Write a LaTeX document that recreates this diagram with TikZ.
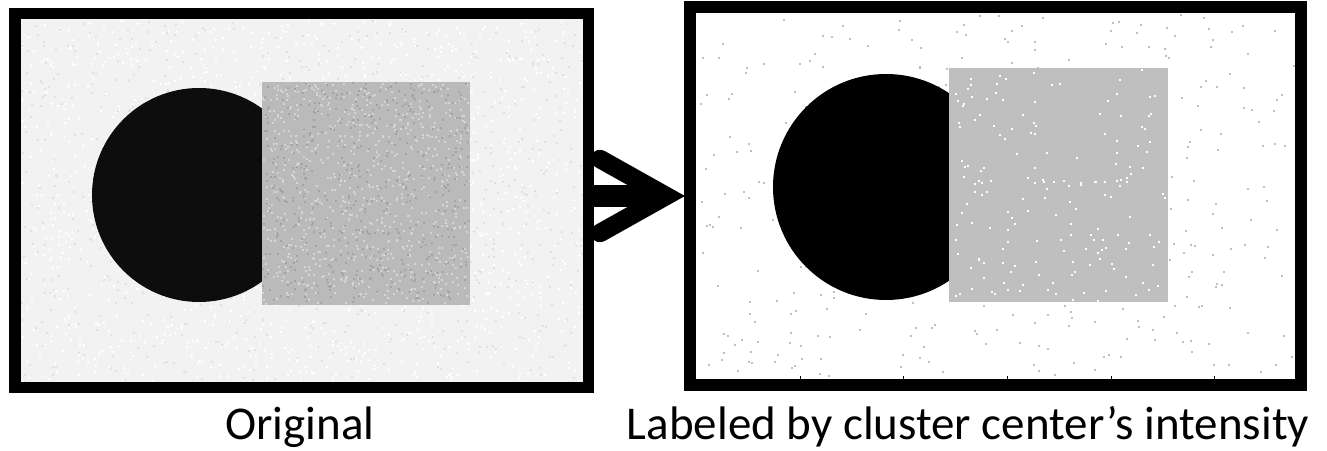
\documentclass[tikz,border=0pt]{standalone}
\usepackage{fontspec}
\setmainfont{Carlito}
\tikzset{
  frame/.style={draw=black, line width=11.5bp},
  lbl/.style={anchor=base, font=\fontsize{47bp}{52bp}\selectfont, inner sep=0pt},
  tick/.style={draw=black, line width=0.8bp},
}
\begin{document}
\begin{tikzpicture}[x=1bp, y=-1bp]
\useasboundingbox[fill=white] (0,0) rectangle (1327,451);
\pgfmathsetseed{12345}
% ---------- left panel (original, noisy) ----------
\fill[black!5] (15,14) rectangle (588,387);
\foreach \i in {1,...,1400} {
  \fill[white] ({20+564*rnd},{19+364*rnd}) rectangle ++(2,2);
}
\foreach \i in {1,...,700} {
  \fill[black!12] ({20+564*rnd},{19+364*rnd}) rectangle ++(2,2);
}
\fill[black!95] (199,195) circle[radius=107];
\fill[black!27] (262,82) rectangle (470,305);
\foreach \i in {1,...,800} {
  \fill[black!17] ({262+206*rnd},{82+221*rnd}) rectangle ++(2,2);
}
\foreach \i in {1,...,500} {
  \fill[black!36] ({262+206*rnd},{82+221*rnd}) rectangle ++(2,2);
}
\draw[frame] (14.75,13.75) rectangle (588.25,387.25);
% ---------- right panel (labeled) ----------
\foreach \i in {1,...,420} {
  \fill[black!25] ({697+597*rnd},{13+364*rnd}) rectangle ++(2,2);
}
\fill[black] (886,187) circle[radius=113];
\fill[black!25] (949,68) rectangle (1168,302);
\foreach \i in {1,...,170} {
  \fill[white] ({950+216*rnd},{69+231*rnd}) rectangle ++(2,2);
}
\foreach \x in {800,903,1007,1111,1214} {
  \draw[tick] (\x,379) -- (\x,376);
}
\draw[frame, line width=12bp] (690,7) rectangle (1301,385);
% ---------- arrow ----------
\coordinate (tip) at (666,196);
\coordinate (armA) at (600,159);
\coordinate (armB) at (600,233);
\fill[black] (594,185) rectangle (662,207);
\draw[line width=18.5bp, line cap=round, line join=miter] (armA) -- (tip) -- (armB);
% ---------- labels ----------
\node[lbl] (l1) at (300,439) {Original};
\node[lbl] (l2) at (968,439) {Labeled by cluster center’s intensity};
\end{tikzpicture}
\end{document}
